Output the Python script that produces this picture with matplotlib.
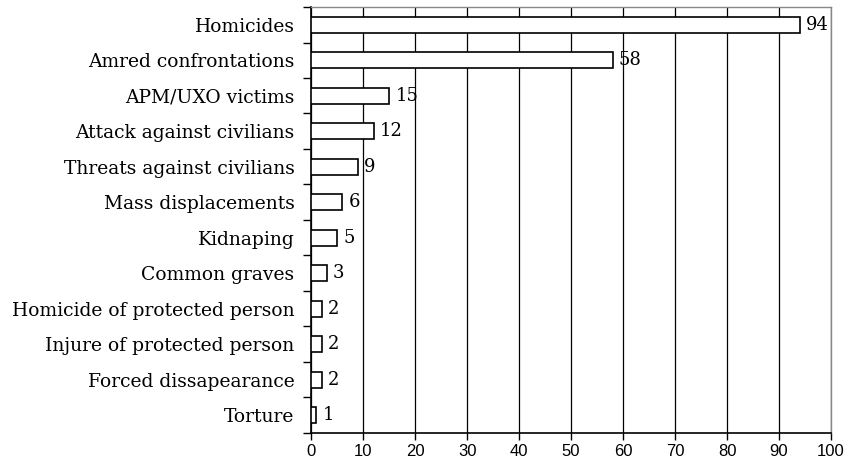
import numpy as np
import matplotlib
matplotlib.use("Agg")
import matplotlib.pyplot as plt

categories = ["Homicides", "Amred confrontations", "APM/UXO victims",
              "Attack against civilians", "Threats against civilians",
              "Mass displacements", "Kidnaping", "Common graves",
              "Homicide of protected person", "Injure of protected person",
              "Forced dissapearance", "Torture"]
values = [94, 58, 15, 12, 9, 6, 5, 3, 2, 2, 2, 1]
x_ticks = list(range(0, 101, 10))

fig = plt.figure(figsize=(8.48, 4.68), dpi=100)
ax = fig.add_axes([0.367, 0.075, 0.613, 0.910])

pos = np.arange(len(categories))[::-1]
ax.barh(pos, values, height=0.45, color="white", edgecolor="black",
        linewidth=1.2, zorder=3)
for p, v in zip(pos, values):
    ax.text(v + 1.2, p, str(v), va="center", ha="left", family="DejaVu Serif",
            fontsize=13, zorder=4)

ax.set_xlim(0, 100)
ax.set_ylim(-0.5, len(categories) - 0.5)
ax.set_xticks(x_ticks)
ax.set_xticklabels([str(t) for t in x_ticks], family="Liberation Sans", fontsize=12)
ax.set_yticks(pos)
ax.set_yticklabels(categories, family="DejaVu Serif", fontsize=13.5)
ax.set_yticks(np.arange(-0.5, len(categories)), minor=True)
ax.tick_params(axis="y", which="major", length=0, pad=12)
ax.tick_params(axis="y", which="minor", length=6, direction="out", width=1)
ax.tick_params(axis="x", length=5, direction="out", width=1, pad=3)
ax.grid(axis="x", color="black", linewidth=0.9, zorder=0)
ax.spines["left"].set_linewidth(1.2)
ax.spines["bottom"].set_linewidth(1.2)
for s in ("top", "right"):
    ax.spines[s].set_color("#888888")
    ax.spines[s].set_linewidth(1)

fig.savefig("out.png", dpi=100)
